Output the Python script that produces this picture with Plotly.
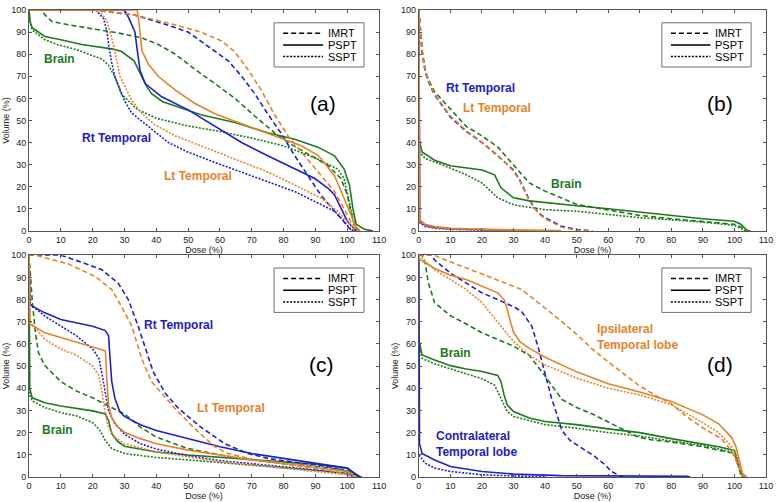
import plotly.graph_objects as go
from plotly.subplots import make_subplots

# Dose-volume histograms: (dose %, volume %)

# panel (a)
a_brain_imrt = [(0, 100), (4, 100), (5, 97.8), (7.2, 94.8), (12.4, 93.3), (20, 91.6), (28, 89.6), (35.4, 87.4),
                (40.6, 84.4), (46, 80), (52, 73.3), (58.4, 66.7), (64.7, 60), (71, 51.9), (77.2, 44.4), (81.4, 40),
                (87.7, 34.8), (94, 29.6), (98, 23.7), (100, 16.3), (101.3, 7.4), (102.8, 1.5), (104, 0)]
a_brain_pspt = [(0, 100), (0.3, 95), (1, 92), (5, 88), (10, 86.5), (16.6, 84.4), (26, 82.4), (29, 81.3), (33, 77),
                (35.4, 69.8), (37, 65.3), (38.6, 62), (42, 58.5), (46, 56.5), (54, 52.6), (65, 49), (75, 44.4),
                (83.5, 41.5), (91, 37.8), (96, 34), (99, 28), (100.7, 20.7), (101.8, 10), (102.8, 3), (105.4, 0.7),
                (108, 0)]
a_brain_sspt = [(0, 100), (0.3, 95), (1, 91), (5, 86.5), (8.8, 84.4), (15, 82), (22.9, 77.8), (25, 75), (27, 69.6),
                (29, 62), (34, 55), (40, 51), (50, 47.5), (60, 45), (70, 42), (80, 38.5), (90, 33), (97, 28),
                (99, 23.7), (100, 17.8), (101.3, 8.9), (102.3, 1.5), (103.5, 0)]
a_rt_imrt = [(0, 100), (20, 100), (33, 97.8), (44, 93), (50, 90), (56, 84), (62.6, 77), (66.8, 70), (71, 62),
             (75, 53), (79.3, 44), (83.5, 34), (87.7, 25), (91.8, 16), (96, 9), (99, 3.7), (101, 0.7), (103, 0)]
a_rt_pspt = [(0, 100), (30, 100), (31.5, 96), (33.3, 90), (33.9, 83), (34.9, 72.6), (36.5, 66.7), (41.7, 60.7),
             (50, 54.8), (58.4, 47.4), (66.8, 40), (75, 34), (83.5, 28), (89.8, 23.7), (94, 19.3), (96, 16.3),
             (98, 10.4), (100, 4.4), (102.3, 0.7), (104, 0)]
a_rt_sspt = [(0, 100), (21, 100), (23.5, 96), (24.5, 90), (25, 84.4), (26, 76), (27, 69.8), (30, 59), (32.3, 53.3),
             (35, 50), (38.6, 46), (43.8, 40), (50, 35.6), (58.4, 31), (66.8, 26.7), (75, 22.2), (83.5, 17.8),
             (89.8, 13.3), (96, 8.9), (99, 4.4), (101, 0.7), (102.5, 0)]
a_lt_imrt = [(0, 100), (20, 100), (33, 97.8), (44, 94), (54, 90), (60.5, 86), (64.7, 81), (69, 72.6), (73, 63.7),
             (77, 53), (81.4, 43), (85.6, 35.6), (90.8, 26.7), (96, 17.8), (99, 10), (101, 4.4), (102.3, 0.7),
             (104, 0)]
a_lt_pspt = [(0, 100), (34, 100), (34.5, 95), (35, 88), (35.5, 81.5), (37.5, 75.5), (40.6, 70), (46, 63.7),
             (52, 57.8), (58.4, 53), (64.7, 49.6), (75, 44.4), (85.6, 38.5), (91, 34), (96, 25), (99, 14.8),
             (101, 7.4), (102.8, 1.5), (104, 0)]
a_lt_sspt = [(0, 100), (22, 100), (24.5, 95), (25.5, 90), (26.6, 84), (28.6, 70), (32.3, 59), (35.4, 53.3),
             (39.6, 48), (46, 43), (54, 38.5), (64.7, 32.6), (75, 26.7), (85.6, 19.3), (91.8, 14.8), (97, 8.9),
             (100, 4.4), (102.3, 0.7), (103.5, 0)]

# panel (b)
b_brain_imrt = [(0, 100), (0.5, 90), (1, 82), (2, 73), (3, 68.5), (5, 63), (10, 55), (15, 47.3), (20, 43),
                (25, 38), (30, 29.8), (35, 21.7), (40, 18), (45, 15), (50, 12), (60, 9.5), (70, 7), (80, 5.5),
                (90, 4.4), (100, 3), (102, 1.8), (104, 0)]
b_brain_pspt = [(0, 42), (1, 35.7), (5, 32), (10, 29.5), (20, 27.6), (24, 25.4), (26, 19.5), (30, 15), (35, 13.6),
                (40, 12.8), (50, 11.4), (60, 10), (70, 8.4), (80, 7), (90, 5.5), (100, 4.4), (102, 3), (104, 0.3),
                (105, 0)]
b_brain_sspt = [(0, 36), (2, 32.8), (10, 28.4), (15, 25.4), (20, 21.7), (25, 15), (30, 11.8), (40, 9.6), (50, 8.9),
                (60, 7.4), (70, 6), (80, 5), (90, 4), (100, 2.5), (103, 0.3), (104, 0)]
b_rt_imrt = [(0, 100), (0.5, 90), (1, 81), (2, 72), (3, 67.5), (5, 61.5), (10, 51.5), (15, 45), (20, 40), (25, 34),
             (30, 27.5), (32, 23), (35, 14), (38, 8), (40, 6), (45, 2.2), (50, 0.6), (55, 0)]
b_rt_pspt = [(0, 100), (0.3, 4), (2, 2.5), (5, 1.5), (10, 1), (20, 0.5), (30, 0.2), (45, 0)]
b_rt_sspt = [(0, 4), (2, 2), (5, 1.2), (10, 0.7), (20, 0.3), (30, 0.1), (40, 0)]
b_lt_imrt = [(0, 100), (0.5, 90), (1, 82), (2, 72.7), (3, 68), (5, 62), (10, 52), (15, 45.4), (20, 40.2),
             (25, 34.3), (30, 27), (32, 22.5), (35, 13.6), (38, 7.7), (40, 5.5), (45, 1.8), (50, 0.3), (55, 0)]
b_lt_pspt = [(0, 100), (0.3, 5), (2, 3), (5, 2), (10, 1.2), (20, 0.7), (30, 0.4), (44, 0.2), (45, 0)]
b_lt_sspt = [(0, 4.5), (2, 2.5), (5, 1.5), (10, 1), (20, 0.5), (30, 0.3), (40, 0)]

# panel (c)
c_brain_imrt = [(0, 100), (0.5, 90), (1, 80), (2, 65), (3, 56), (5, 50.2), (10, 43), (15, 38.7), (20, 35.7),
                (25, 32), (30, 28.4), (35, 22.5), (40, 18), (50, 12.8), (60, 9.9), (70, 7.7), (80, 6.2), (90, 4.7),
                (100, 3.2), (102, 1.4), (104, 0)]
c_brain_pspt = [(0, 100), (0.2, 40), (1, 35.7), (5, 33.5), (10, 32), (20, 29.8), (24, 28.4), (25, 25.4),
                (26, 19.5), (28, 15.8), (30, 13.9), (40, 11.3), (50, 9.9), (60, 8.8), (70, 7.7), (80, 6.9),
                (90, 5.8), (100, 4), (102, 1.8), (104, 0)]
c_brain_sspt = [(0, 100), (0.2, 37), (1, 34.3), (5, 31.3), (10, 29), (15, 27.5), (20, 24.5), (22, 21.6), (24, 16.4),
                (26, 12.8), (30, 10.6), (40, 8.8), (50, 7.7), (60, 6.5), (70, 5.5), (80, 4.4), (90, 3.2),
                (100, 1.8), (102, 0)]
c_rt_imrt = [(0, 100), (10, 100), (17.6, 96.3), (22.9, 93.4), (28, 87.4), (31.2, 80), (34.3, 68), (36.5, 58),
             (39, 47.5), (42.7, 38), (46.9, 31), (54, 22.5), (61.5, 15), (68.8, 10.6), (75, 8.4), (85.5, 6.2),
             (93.8, 4.7), (100, 2.5), (102.2, 0.6), (105, 0)]
c_rt_pspt = [(0, 100), (0.3, 78), (1, 77), (5, 74), (10, 71), (15, 69.6), (20, 68), (24, 66), (25, 63.7),
             (25.5, 53), (26, 43), (27, 35.5), (28.5, 29.5), (30, 27.3), (35, 23.6), (40, 21), (50, 17.3),
             (60, 13.6), (70, 10.6), (80, 8.4), (90, 6.2), (100, 4), (102, 1.8), (104, 0)]
c_rt_sspt = [(0, 100), (0.3, 78), (5, 72.5), (10, 68), (15, 63.6), (20, 57.7), (22, 53.3), (23, 45.9), (24, 37),
             (25, 29.8), (27, 24), (30, 19.3), (35, 15), (40, 12.6), (50, 9.6), (60, 7.4), (70, 6), (80, 4.7),
             (90, 3.2), (100, 1.4), (102, 0)]
c_lt_imrt = [(0, 100), (2, 100), (12.4, 96), (20.8, 90.4), (26, 84.5), (29, 77), (32.3, 68), (35.4, 53.4),
             (38.5, 43), (41, 39), (45.8, 31), (51.6, 22.5), (58.4, 13.6), (62.5, 10.6), (70, 8), (80, 5.8),
             (90, 4), (96, 2.5), (100, 1), (103, 0)]
c_lt_pspt = [(0, 100), (0.3, 69), (5, 65), (10, 62.8), (15, 60.6), (20, 58.4), (24, 56.9), (24.5, 43), (25, 32.5),
             (26, 26.6), (28, 22.5), (30, 20.2), (35, 17.3), (40, 15), (50, 12.1), (60, 9.9), (70, 7.7), (80, 6.2),
             (90, 4.4), (100, 2.5), (102, 0.6), (103, 0)]
c_lt_sspt = [(0, 100), (0.3, 70), (5, 62), (10, 57.7), (15, 54.8), (20, 50), (22, 45.6), (23, 38), (24, 28),
             (25, 22.3), (27, 17.9), (30, 15), (40, 11.3), (50, 9), (60, 6.9), (70, 5.4), (80, 3.9), (90, 2.5),
             (100, 1), (102, 0)]

# panel (d)
d_brain_imrt = [(0, 100), (1, 100), (2, 96.3), (3, 87.4), (5, 78.6), (10, 72.7), (15, 69), (20, 65), (25, 62),
                (30, 59), (35, 54.8), (40, 45.5), (45.3, 35), (50, 31.3), (55, 28.4), (60, 24.7), (64, 21.7),
                (69.5, 18), (74.7, 16.5), (80, 15.8), (90, 13.6), (100, 10.6), (101, 6.2), (102, 1.8), (103, 0)]
d_brain_pspt = [(0, 62), (1, 55), (5, 52.7), (10, 50.2), (15, 48.7), (20, 47.6), (25, 45.8), (26, 43), (27, 37),
                (28, 32.5), (30, 29.5), (35, 26.6), (40, 25), (50, 23.6), (60, 21.7), (70, 20), (80, 17.3), (90, 15),
                (95, 13.6), (100, 12), (101, 7.7), (102, 1.8), (103, 0)]
d_brain_sspt = [(0, 60), (1, 53.5), (5, 51), (10, 48.7), (20, 44.3), (24, 41.4), (26, 35.5), (28, 29.5), (30, 27.3),
                (40, 23.6), (50, 22), (60, 20), (70, 18.5), (80, 16.2), (90, 14.3), (100, 11), (101, 6), (102, 1),
                (103, 0)]
d_contra_imrt = [(0, 100), (4, 100), (5, 97.8), (10, 91.9), (15, 87.4), (20, 83), (25, 80), (30.5, 76.4),
                 (32.6, 74.5), (35.8, 68), (37.9, 58), (40, 46), (42, 35.7), (43.7, 28.4), (45.3, 21), (47.9, 16.5),
                 (51.6, 12.9), (55.8, 9.2), (59, 5.5), (61, 2.5), (64, 0.3), (65, 0)]
d_contra_pspt = [(0, 100), (0.2, 15), (1, 10.6), (5, 7.7), (10, 4.7), (20, 2.5), (30, 1.3), (45, 0.6), (85, 0.3),
                 (86, 0)]
d_contra_sspt = [(0, 10), (2, 6.2), (5, 4), (10, 2.5), (20, 1), (30, 0.5), (40, 0)]
d_ipsi_imrt = [(0, 100), (5, 100), (6.3, 99), (11.6, 96), (22, 90.4), (32.6, 84.5), (37.9, 78.6), (43, 72.7),
               (49.5, 65), (54.7, 58), (59, 53), (64, 47.6), (69.5, 41.5), (74.7, 37), (80, 33), (85, 27),
               (90.5, 21.7), (95.8, 17.3), (99, 12), (101, 6), (102.6, 1), (104, 0)]
d_ipsi_pspt = [(0, 100), (0.3, 98), (5, 94), (10, 91), (15, 89), (20, 86), (25, 83), (27, 80), (28, 75.6),
               (29, 70), (30, 65.3), (32, 61), (35, 58), (40, 54), (50, 47.4), (60, 42), (70, 38.3), (80, 34),
               (90, 28), (95, 24), (99, 18), (100.5, 13.6), (101.5, 7.7), (102.5, 1.8), (104, 0)]
d_ipsi_sspt = [(0, 100), (5, 93.4), (10, 89), (15, 84.5), (20, 78.6), (25, 70), (30, 61), (35, 55), (40, 50.5),
               (50, 44.6), (60, 40), (70, 37), (80, 32.6), (90, 24.5), (95, 20), (99, 14), (101, 8), (102, 3),
               (103, 0)]

GREEN = "#1d7a1d"
BLUE = "#2020d0"
ORANGE = "#e8822a"
DASH = {"IMRT": "5px,3px", "PSPT": "solid", "SSPT": "2px,1.5px"}
FONT = "Liberation Sans, Arial, sans-serif"

panels = [
    (1, 1, [(a_brain_imrt, GREEN, "IMRT"), (a_brain_pspt, GREEN, "PSPT"), (a_brain_sspt, GREEN, "SSPT"),
            (a_rt_imrt, BLUE, "IMRT"), (a_rt_pspt, BLUE, "PSPT"), (a_rt_sspt, BLUE, "SSPT"),
            (a_lt_imrt, ORANGE, "IMRT"), (a_lt_pspt, ORANGE, "PSPT"), (a_lt_sspt, ORANGE, "SSPT")]),
    (1, 2, [(b_brain_imrt, GREEN, "IMRT"), (b_brain_pspt, GREEN, "PSPT"), (b_brain_sspt, GREEN, "SSPT"),
            (b_rt_imrt, BLUE, "IMRT"), (b_rt_pspt, BLUE, "PSPT"), (b_rt_sspt, BLUE, "SSPT"),
            (b_lt_imrt, ORANGE, "IMRT"), (b_lt_pspt, ORANGE, "PSPT"), (b_lt_sspt, ORANGE, "SSPT")]),
    (2, 1, [(c_brain_imrt, GREEN, "IMRT"), (c_brain_pspt, GREEN, "PSPT"), (c_brain_sspt, GREEN, "SSPT"),
            (c_rt_imrt, BLUE, "IMRT"), (c_rt_pspt, BLUE, "PSPT"), (c_rt_sspt, BLUE, "SSPT"),
            (c_lt_imrt, ORANGE, "IMRT"), (c_lt_pspt, ORANGE, "PSPT"), (c_lt_sspt, ORANGE, "SSPT")]),
    (2, 2, [(d_brain_imrt, GREEN, "IMRT"), (d_brain_pspt, GREEN, "PSPT"), (d_brain_sspt, GREEN, "SSPT"),
            (d_contra_imrt, BLUE, "IMRT"), (d_contra_pspt, BLUE, "PSPT"), (d_contra_sspt, BLUE, "SSPT"),
            (d_ipsi_imrt, ORANGE, "IMRT"), (d_ipsi_pspt, ORANGE, "PSPT"), (d_ipsi_sspt, ORANGE, "SSPT")]),
]

# text labels inside each panel: (row, col, dose, volume, text, colour, anchor)
labels = [
    (1, 1, 9.6, 77.8, "Brain", GREEN, "center"),
    (1, 1, 27.4, 42.2, "Rt Temporal", BLUE, "center"),
    (1, 1, 53.2, 24.9, "Lt Temporal", ORANGE, "center"),
    (1, 2, 19.5, 64.8, "Rt Temporal", BLUE, "center"),
    (1, 2, 24.7, 55.7, "Lt Temporal", ORANGE, "center"),
    (1, 2, 46.8, 21.3, "Brain", GREEN, "center"),
    (2, 1, 46.9, 68.5, "Rt Temporal", BLUE, "center"),
    (2, 1, 63.6, 31.3, "Lt Temporal", ORANGE, "center"),
    (2, 1, 8.8, 21.3, "Brain", GREEN, "center"),
    (2, 2, 55.8, 62.9, "Ipsilateral<br>Temporal lobe", ORANGE, "left"),
    (2, 2, 11.6, 55.7, "Brain", GREEN, "center"),
    (2, 2, 4.7, 14.8, "Contralateral<br>Temporal lobe", BLUE, "left"),
]
panel_tags = [(1, 1, 92.4, 57.8, "(a)"), (1, 2, 95.3, 57.9, "(b)"), (2, 1, 91.8, 50.5, "(c)"), (2, 2, 95.3, 50.5, "(d)")]

fig = make_subplots(rows=2, cols=2)

for row, col, curves in panels:
    for pts, colour, plan in curves:
        fig.add_trace(go.Scatter(
            x=[p[0] for p in pts], y=[p[1] for p in pts], mode="lines",
            line=dict(color=colour, width=1.6, dash=DASH[plan]),
            showlegend=False, hoverinfo="skip"), row=row, col=col)

for row, col, x, y, txt, colour, anchor in labels:
    fig.add_annotation(x=x, y=y, text=f"<b>{txt}</b>", showarrow=False, xanchor=anchor, yanchor="middle",
                       align="left", font=dict(family=FONT, size=12, color=colour), row=row, col=col)

for row, col, x, y, txt in panel_tags:
    fig.add_annotation(x=x, y=y, text=txt, showarrow=False, yanchor="middle",
                       font=dict(family=FONT, size=21, color="black"), row=row, col=col)

# legend box drawn in each panel (same place in axis-domain units)
for i in range(1, 5):
    xr = "x domain" if i == 1 else f"x{i} domain"
    yr = "y domain" if i == 1 else f"y{i} domain"
    fig.add_shape(type="rect", xref=xr, yref=yr, x0=0.70, x1=0.957, y0=0.742, y1=0.942,
                  line=dict(color="#6e6e6e", width=1), fillcolor="white", layer="above")
    for k, plan in enumerate(["IMRT", "PSPT", "SSPT"]):
        yy = 0.895 - k * 0.053
        fig.add_shape(type="line", xref=xr, yref=yr, x0=0.726, x1=0.84, y0=yy, y1=yy,
                      line=dict(color="black", width=1.5, dash=DASH[plan]), layer="above")
        fig.add_annotation(xref=xr, yref=yr, x=0.848, y=yy, text=plan, showarrow=False,
                           xanchor="left", yanchor="middle",
                           font=dict(family=FONT, size=11, color="black"))

axis_style = dict(showgrid=False, zeroline=False, showline=True, linecolor="#555555", linewidth=1,
                  mirror="ticks", ticks="inside", ticklen=3, tickcolor="#555555",
                  tickfont=dict(family=FONT, size=9, color="#222222"))

doms_x = {1: [0, 0.475], 2: [0.529, 1]}
doms_y = {1: [0.527, 1], 2: [0, 0.475]}
for row in (1, 2):
    for col in (1, 2):
        fig.update_xaxes(range=[0, 110], dtick=10, domain=doms_x[col], **axis_style,
                         title=dict(text="Dose (%)", standoff=0, font=dict(family=FONT, size=9, color="#222222")),
                         row=row, col=col)
        ytitle = "" if (row, col) == (1, 2) else "Volume (%)"
        fig.update_yaxes(range=[0, 100], dtick=10, domain=doms_y[row], **axis_style,
                         title=dict(text=ytitle, standoff=0, font=dict(family=FONT, size=9, color="#222222")),
                         row=row, col=col)

fig.update_layout(
    width=778, height=502,
    margin=dict(l=27, r=12, t=5, b=21),
    paper_bgcolor="white", plot_bgcolor="white",
    font=dict(family=FONT),
)

# the page body keeps a default margin; drop it so the figure sits at the window corner
fig.write_html("out.html", config={"displayModeBar": False},
               post_script="document.body.style.margin='0';")
